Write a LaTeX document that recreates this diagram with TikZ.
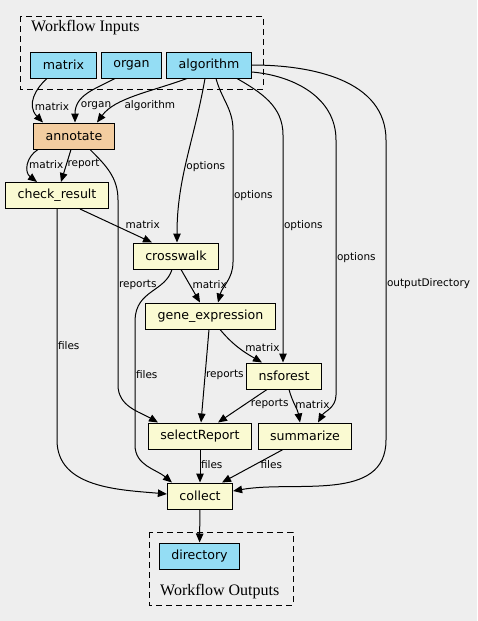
\documentclass[tikz,border=0pt]{standalone}
\usepackage{fontspec}
\setmainfont{DejaVu Sans}
\newfontfamily\clusterfont{Liberation Serif}
\usepackage{tikz}
\usetikzlibrary{arrows.meta}
\definecolor{bggrey}{HTML}{EEEEEE}
\definecolor{inblue}{HTML}{94DDF4}
\definecolor{stepyellow}{HTML}{FAFAD2}
\definecolor{annorange}{HTML}{F3CDA0}

\begin{document}
\begin{tikzpicture}[
  x=1pt, y=1pt,
  box/.style={draw,line width=1pt,minimum height=26pt,inner xsep=12pt,
    inner ysep=0pt,font=\fontsize{12.6}{15}\selectfont},
  inbox/.style={box,fill=inblue},
  stepbox/.style={box,fill=stepyellow},
  arrow/.style={-{Triangle[length=9pt,width=7.5pt]},line width=1pt},
  elabel/.style={font=\fontsize{10.5}{12}\selectfont,inner sep=0.5pt,anchor=west},
  cluster/.style={draw,line width=1pt,dash pattern=on 6pt off 4pt},
  clabel/.style={font=\clusterfont\fontsize{16}{18}\selectfont,anchor=west,inner sep=0pt},
]
  \useasboundingbox[fill=bggrey] (0,0) rectangle (477,-621);

  \draw[cluster] (20,-16) rectangle (263,-89);
  \draw[cluster] (149,-532) rectangle (293,-605);
  \node[clabel] (inlabel) at (31,-27.5) {Workflow Inputs};
  \node[clabel] (outlabel) at (160,-591.5) {Workflow Outputs};

  \node[inbox] (matrix) at (63.5,-65) {matrix};
  \node[inbox] (organ) at (131.5,-65) {organ};
  \node[inbox] (algorithm) at (209,-65) {algorithm};
  \node[box,fill=annorange] (annotate) at (74,-136) {annotate};
  \node[stepbox] (check) at (57,-195.5) {check\_result};
  \node[stepbox] (crosswalk) at (176,-256) {crosswalk};
  \node[stepbox] (geneexpr) at (210.5,-316) {gene\_expression};
  \node[stepbox] (nsforest) at (284,-376) {nsforest};
  \node[stepbox] (select) at (200,-436) {selectReport};
  \node[stepbox] (summarize) at (305,-436) {summarize};
  \node[stepbox] (collect) at (200,-496) {collect};
  \node[inbox] (directory) at (199.5,-556) {directory};

  \draw[arrow] ([xshift=-16.5pt]matrix.south) .. controls (36,-88) and (26,-105) ..
    node[elabel,pos=0.62,yshift=-3pt]{matrix} ([xshift=-31pt]annotate.north);
  \draw[arrow] ([xshift=-16.5pt]organ.south) .. controls (95,-89) and (75,-95) ..
    node[elabel,pos=0.7,yshift=-3pt]{organ} ([xshift=1pt]annotate.north);
  \draw[arrow] ([xshift=-22pt]algorithm.south) .. controls (150,-92) and (115,-98) ..
    node[elabel,pos=0.65,xshift=2pt,yshift=-3pt]{algorithm} ([xshift=23pt]annotate.north);
  \draw[arrow] ([xshift=-36pt]annotate.south) .. controls (26,-157) and (24,-172) ..
    node[elabel,pos=0.5]{matrix} ([xshift=-20pt]check.north);
  \draw[arrow] ([xshift=-3pt]annotate.south) --
    node[elabel,pos=0.45]{report} ([xshift=4pt]check.north);
  \draw[arrow] ([xshift=16pt]annotate.south) to[out=-45,in=90] (118,-200)
    -- node[elabel,pos=0.46]{reports} (118,-385)
    to[out=-90,in=150] ([xshift=-42pt]select.north);

  \draw[arrow] ([xshift=-4pt]algorithm.south) to[out=-100,in=90]
    node[elabel,pos=0.54]{options} ([xshift=1pt]crosswalk.north);
  \draw[arrow] ([xshift=7pt]algorithm.south) to[out=-75,in=90] (233,-130)
    -- node[elabel,pos=0.5]{options} (233,-262)
    to[out=-90,in=75] ([xshift=7.5pt]geneexpr.north);
  \draw[arrow] ([xshift=28pt]algorithm.south) to[out=-30,in=90] (283,-135)
    -- node[elabel,pos=0.4]{options} ([xshift=-1pt]nsforest.north);
  \draw[arrow] ([yshift=-7pt]algorithm.east) to[out=-5,in=90] (336,-140)
    -- node[elabel,pos=0.46]{options} (336,-395)
    to[out=-90,in=60] ([xshift=13pt]summarize.north);
  \draw[arrow] (algorithm.east) to[out=0,in=90] (386,-140)
    -- node[elabel,pos=0.48]{outputDirectory} (386,-440)
    to[out=-90,in=10] ([yshift=5pt]collect.east);

  \draw[arrow] ([xshift=23pt]check.south) --
    node[elabel,pos=0.62,anchor=south west]{matrix} ([xshift=-24pt]crosswalk.north);
  \draw[arrow] (check.south) -- node[elabel,pos=0.59]{files} (57,-440)
    to[out=-90,in=175] ([yshift=2pt]collect.west);
  \draw[arrow] ([xshift=5pt]crosswalk.south) --
    node[elabel,pos=0.45,xshift=2pt]{matrix} ([xshift=-10.5pt]geneexpr.north);
  \draw[arrow] ([xshift=-4pt]crosswalk.south) .. controls (165,-292) and (136,-290) .. (135,-320)
    -- node[elabel,pos=0.44]{files} (135,-445)
    to[out=-90,in=140] ([xshift=-28pt]collect.north);
  \draw[arrow] ([xshift=9.5pt]geneexpr.south) to[out=-50,in=150]
    node[elabel,pos=0.5,xshift=5pt]{matrix} ([xshift=-22pt]nsforest.north);
  \draw[arrow] ([xshift=-1.5pt]geneexpr.south) --
    node[elabel,pos=0.49]{reports} ([xshift=1pt]select.north);
  \draw[arrow] ([xshift=-17pt]nsforest.south) --
    node[elabel,pos=0.45,xshift=5pt]{reports} ([xshift=18pt]select.north);
  \draw[arrow] ([xshift=5pt]nsforest.south) to[out=-75,in=100]
    node[elabel,pos=0.45]{matrix} ([xshift=-5pt]summarize.north);
  \draw[arrow] (select.south) -- node[elabel,pos=0.45]{files} (collect.north);
  \draw[arrow] ([xshift=-22pt]summarize.south) --
    node[elabel,pos=0.45,xshift=4pt]{files} ([xshift=22pt]collect.north);
  \draw[arrow] (collect) -- (directory);
\end{tikzpicture}
\end{document}
